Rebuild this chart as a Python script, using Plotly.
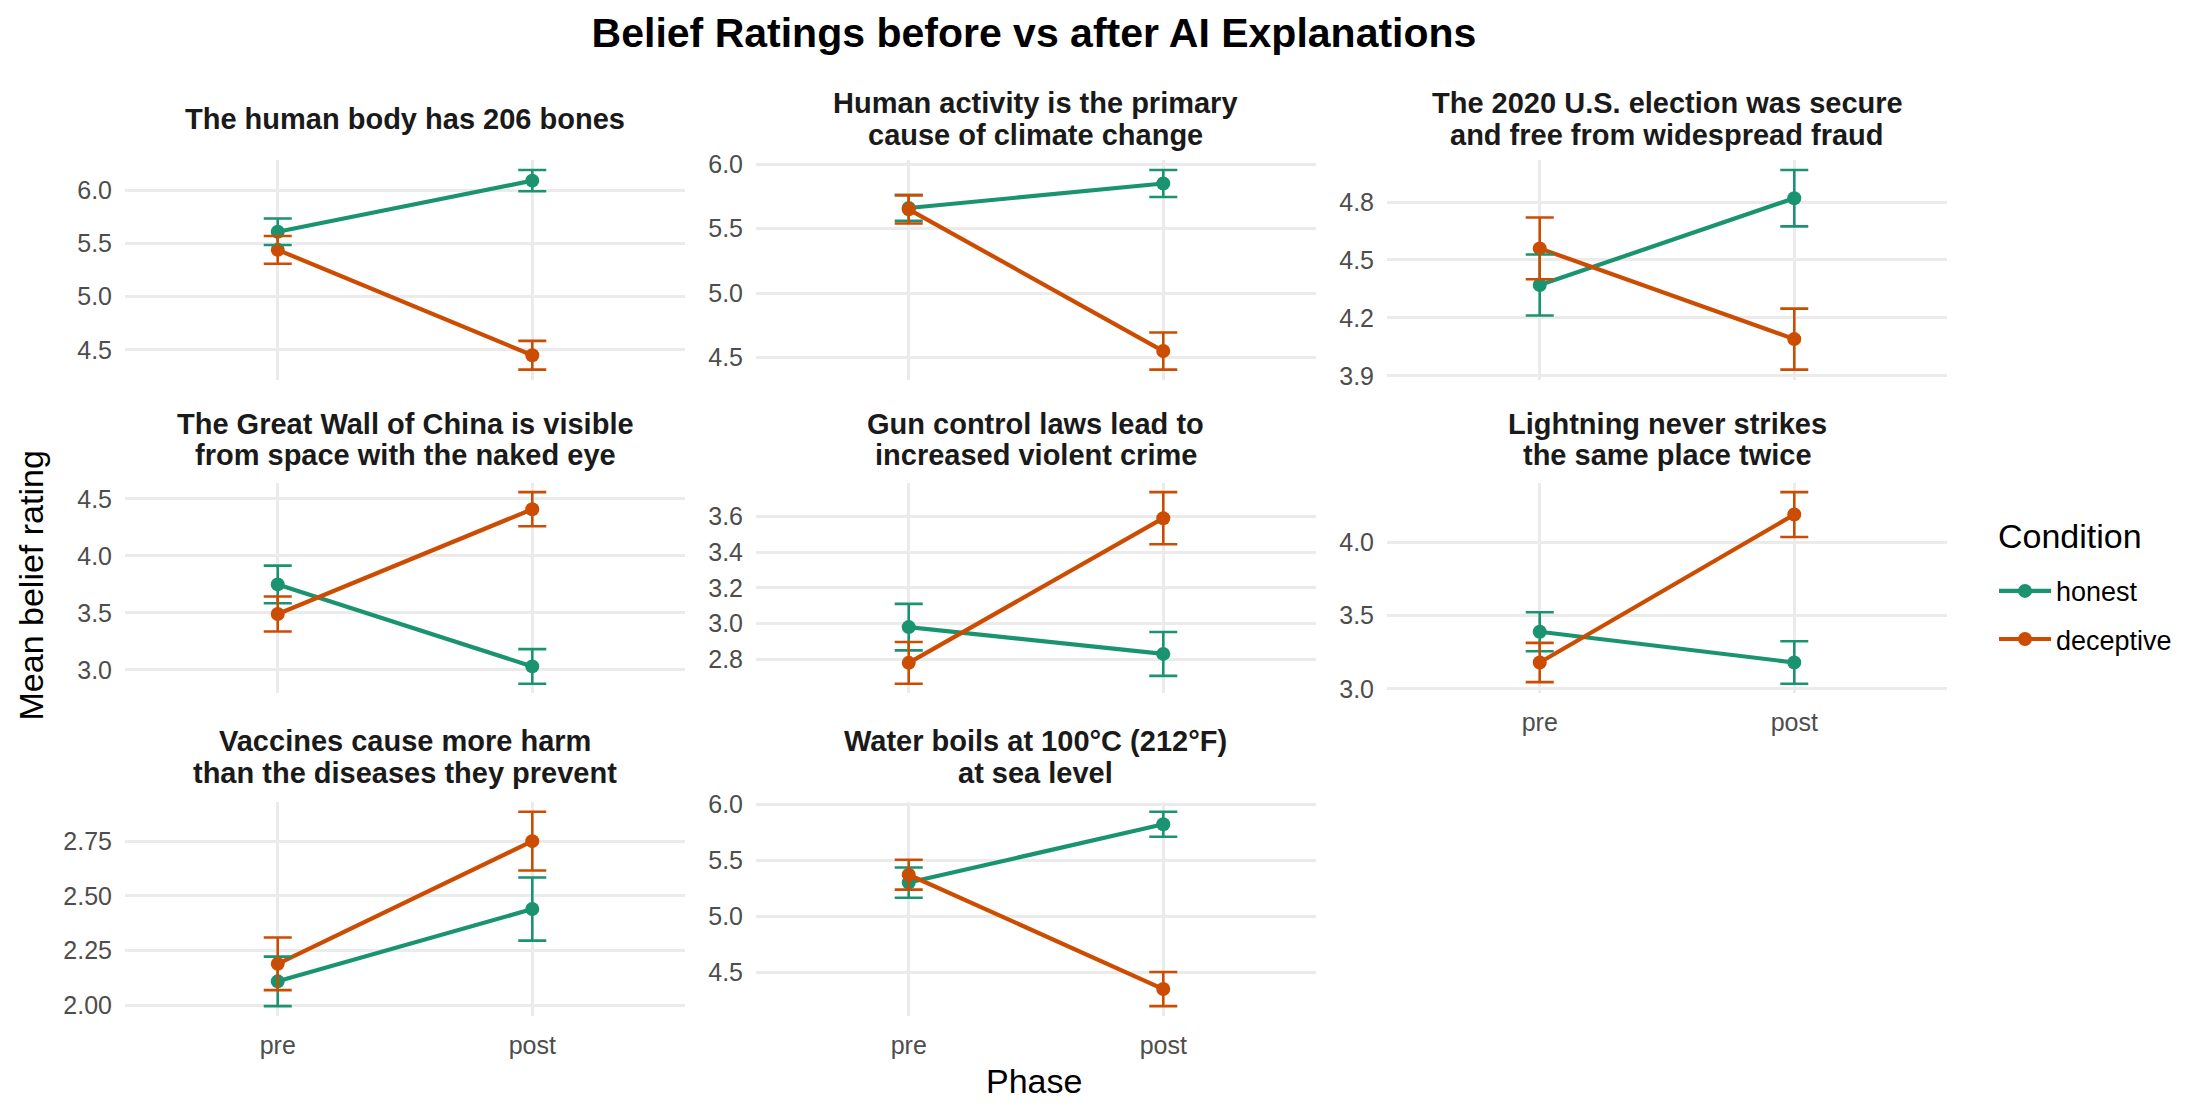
import plotly.graph_objects as go

# ---------------- data ----------------
statements = [
    "The human body has 206 bones",
    "Human activity is the primary<br>cause of climate change",
    "The 2020 U.S. election was secure<br>and free from widespread fraud",
    "The Great Wall of China is visible<br>from space with the naked eye",
    "Gun control laws lead to<br>increased violent crime",
    "Lightning never strikes<br>the same place twice",
    "Vaccines cause more harm<br>than the diseases they prevent",
    "Water boils at 100°C (212°F)<br>at sea level",
]
phases = ["pre", "post"]
conditions = ["honest", "deceptive"]

honest_pre = [5.61, 5.66, 4.37, 3.75, 2.98, 3.39, 2.11, 5.30]
honest_post = [6.09, 5.85, 4.82, 3.03, 2.83, 3.18, 2.44, 5.82]
deceptive_pre = [5.44, 5.65, 4.56, 3.49, 2.78, 3.18, 2.19, 5.37]
deceptive_post = [4.45, 4.55, 4.09, 4.41, 3.59, 4.19, 2.75, 4.35]

honest_pre_se = [0.125, 0.10, 0.158, 0.165, 0.13, 0.133, 0.113, 0.135]
honest_post_se = [0.10, 0.105, 0.146, 0.152, 0.123, 0.145, 0.144, 0.111]
deceptive_pre_se = [0.13, 0.11, 0.16, 0.154, 0.117, 0.134, 0.12, 0.133]
deceptive_post_se = [0.135, 0.144, 0.158, 0.15, 0.146, 0.153, 0.134, 0.152]

y_ticks = [
    [4.5, 5.0, 5.5, 6.0],
    [4.5, 5.0, 5.5, 6.0],
    [3.9, 4.2, 4.5, 4.8],
    [3.0, 3.5, 4.0, 4.5],
    [2.8, 3.0, 3.2, 3.4, 3.6],
    [3.0, 3.5, 4.0],
    [2.00, 2.25, 2.50, 2.75],
    [4.5, 5.0, 5.5, 6.0],
]
y_tick_decimals = [1, 1, 1, 1, 1, 1, 2, 1]

title_text = "Belief Ratings before vs after AI Explanations"
x_title = "Phase"
y_title = "Mean belief rating"
legend_title = "Condition"

# ---------------- style ----------------
W, H = 2212, 1116
colors = {"honest": "#1A9470", "deceptive": "#CC4C02"}
grid_color = "#EBEBEB"
tick_color = "#4D4D4D"
FONT = "Liberation Sans, Arial, Helvetica, sans-serif"

col_left = [125, 756, 1387]
col_w = 560
row_top = [151, 480, 806]
row_h = [224, 215, 218]
strip_center = [109, 436, 760]
strip_line_gap = 32

fig = go.Figure()

series = {
    "honest": (honest_pre, honest_post, honest_pre_se, honest_post_se),
    "deceptive": (deceptive_pre, deceptive_post, deceptive_pre_se, deceptive_post_se),
}

layout_axes = {}
annotations = []
for i, stmt in enumerate(statements):
    r, c = divmod(i, 3)
    k = i + 1
    xa = "x" if k == 1 else f"x{k}"
    ya = "y" if k == 1 else f"y{k}"

    for cond in conditions:
        pre, post, pre_se, post_se = series[cond]
        fig.add_trace(go.Scatter(
            x=phases, y=[pre[i], post[i]], mode="lines+markers",
            line=dict(color=colors[cond], width=4.2),
            marker=dict(color=colors[cond], size=14),
            name=cond, legendgroup=cond, showlegend=(i == 0),
            xaxis=xa, yaxis=ya, hoverinfo="skip",
        ))
    for cond in conditions:
        pre, post, pre_se, post_se = series[cond]
        fig.add_trace(go.Scatter(
            x=phases, y=[pre[i], post[i]], mode="markers",
            marker=dict(color="rgba(0,0,0,0)", size=1),
            error_y=dict(type="data", array=[pre_se[i], post_se[i]],
                         color=colors[cond], thickness=2.6, width=14),
            showlegend=False, xaxis=xa, yaxis=ya, hoverinfo="skip",
        ))

    lows, highs = [], []
    for cn in conditions:
        pre, post, pre_se, post_se = series[cn]
        lows += [pre[i] - pre_se[i], post[i] - post_se[i]]
        highs += [pre[i] + pre_se[i], post[i] + post_se[i]]
    lo, hi = min(lows), max(highs)
    pad = (hi - lo) * 0.05

    x0 = col_left[c] / W
    x1 = (col_left[c] + col_w) / W
    y1 = 1 - row_top[r] / H
    y0 = 1 - (row_top[r] + row_h[r]) / H
    show_x = (r == 2) or (r == 1 and c == 2)
    dec = y_tick_decimals[i]

    layout_axes["xaxis" if k == 1 else f"xaxis{k}"] = dict(
        domain=[x0, x1], anchor=ya, type="category",
        categoryorder="array", categoryarray=phases,
        range=[-0.6, 1.6], showgrid=True, gridcolor=grid_color, gridwidth=2.6,
        zeroline=False, showline=False, ticks="",
        showticklabels=show_x, ticklabelstandoff=12,
        tickfont=dict(family=FONT, size=25, color=tick_color),
    )
    layout_axes["yaxis" if k == 1 else f"yaxis{k}"] = dict(
        domain=[y0, y1], anchor=xa, range=[lo - pad, hi + pad],
        tickmode="array", tickvals=y_ticks[i],
        ticktext=[f"{v:.{dec}f}" for v in y_ticks[i]],
        showgrid=True, gridcolor=grid_color, gridwidth=2.6,
        zeroline=False, showline=False, ticks="", ticklabelstandoff=12,
        tickfont=dict(family=FONT, size=25, color=tick_color),
    )
    lines = stmt.split("<br>")
    n = len(lines)
    for j, ln in enumerate(lines):
        yc = strip_center[r] + (j - (n - 1) / 2) * strip_line_gap
        annotations.append(dict(
            text=f"<b>{ln}</b>", x=(x0 + x1) / 2, y=1 - yc / H,
            xref="paper", yref="paper", xanchor="center", yanchor="middle",
            showarrow=False, font=dict(family=FONT, size=29, color="#1A1A1A"),
        ))

annotations.append(dict(
    text=x_title, x=1034 / W, y=1 - 1090 / H, xref="paper", yref="paper",
    xanchor="center", yanchor="middle", showarrow=False,
    font=dict(family=FONT, size=34, color="black"),
))
annotations.append(dict(
    text=y_title, x=31 / W, y=1 - 585 / H, xref="paper", yref="paper",
    xanchor="center", yanchor="middle", showarrow=False, textangle=-90,
    font=dict(family=FONT, size=34, color="black"),
))
annotations.append(dict(
    text=legend_title, x=1996 / W, y=1 - 535 / H, xref="paper", yref="paper",
    xanchor="left", yanchor="middle", showarrow=False,
    font=dict(family=FONT, size=34, color="black"),
))

fig.update_layout(
    width=W, height=H,
    margin=dict(l=0, r=0, t=0, b=0),
    paper_bgcolor="white", plot_bgcolor="white",
    title=dict(text=f"<b>{title_text}</b>", x=1034 / W, xanchor="center",
               y=1 - 33 / H, yanchor="middle",
               font=dict(family=FONT, size=41, color="black")),
    legend=dict(
        x=1994 / W, y=1 - 566 / H, xanchor="left", yanchor="top",
        font=dict(family=FONT, size=27, color="black"),
        tracegroupgap=10, itemwidth=52, bgcolor="rgba(0,0,0,0)",
    ),
    annotations=annotations,
    **layout_axes,
)

fig.write_html("out.html")
